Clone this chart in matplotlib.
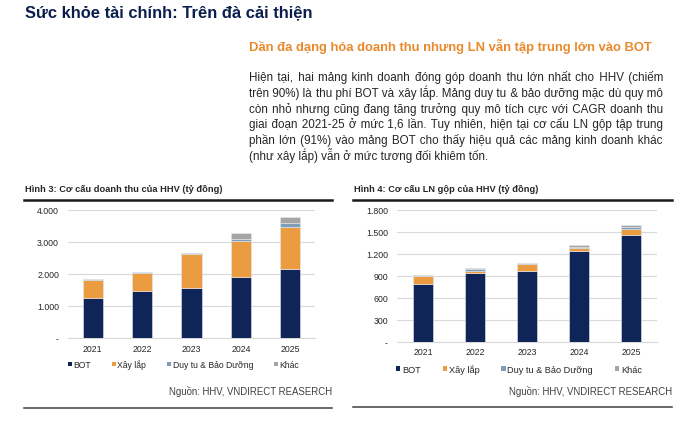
import matplotlib
matplotlib.use("Agg")
import matplotlib.pyplot as plt
from matplotlib.patches import Patch
from matplotlib.lines import Line2D

plt.rcParams["font.family"] = "Liberation Sans"

W, H = 690, 427

_NAVY = "#102557"
_ORANGE = "#eb9b40"
_STEEL = "#7d9db8"
_GREY = "#a5a5a5"
_TEXT = "#262626"

years = ["2021", "2022", "2023", "2024", "2025"]
series_names = ["BOT", "Xây lắp", "Duy tu & Bảo Dưỡng", "Khác"]

# doanh thu (tỷ đồng)
rev_bot = [1240, 1475, 1550, 1895, 2165]
rev_xay_lap = [570, 545, 1065, 1145, 1315]
rev_duy_tu = [25, 30, 25, 50, 110]
rev_khac = [15, 10, 15, 180, 180]
rev_ticks = [0, 1000, 2000, 3000, 4000]
rev_ticklabels = ["-", "1.000", "2.000", "3.000", "4.000"]

# LN gộp (tỷ đồng)
gp_bot = [790, 935, 966, 1244, 1463]
gp_xay_lap = [108, 31, 92, 37, 78]
gp_duy_tu = [4, 28, 12, 19, 23]
gp_khac = [3, 13, 6, 22, 36]
gp_ticks = [0, 300, 600, 900, 1200, 1500, 1800]
gp_ticklabels = ["-", "300", "600", "900", "1.200", "1.500", "1.800"]

title = "Sức khỏe tài chính: Trên đà cải thiện"
subtitle = "Dần đa dạng hóa doanh thu nhưng LN vẫn tập trung lớn vào BOT"
para_lines = [
    "Hiện tại, hai mảng kinh doanh đóng góp doanh thu lớn nhất cho HHV (chiếm",
    "trên 90%) là thu phí BOT và xây lắp. Mảng duy tu & bảo dưỡng mặc dù quy mô",
    "còn nhỏ nhưng cũng đang tăng trưởng quy mô tích cực với CAGR doanh thu",
    "giai đoạn 2021-25 ở mức 1,6 lần. Tuy nhiên, hiện tại cơ cấu LN gộp tập trung",
    "phần lớn (91%) vào mảng BOT cho thấy hiệu quả các mảng kinh doanh khác",
    "(như xây lắp) vẫn ở mức tương đối khiêm tốn.",
]
fig3_title = "Hình 3: Cơ cấu doanh thu của HHV (tỷ đồng)"
fig4_title = "Hình 4: Cơ cấu LN gộp của HHV (tỷ đồng)"
fig3_source = "Nguồn: HHV, VNDIRECT REASERCH"
fig4_source = "Nguồn: HHV, VNDIRECT RESEARCH"


def fx(x):
    return x / W


def fy(y):
    return 1 - y / H


def add_ax(fig, x0, x1, y0, y1):
    # pixel box, y0 top / y1 bottom
    return fig.add_axes([fx(x0), fy(y1), fx(x1) - fx(x0), (y1 - y0) / H])


def stacked_bars(ax, stacks, ticks, ticklabels, width):
    colors = [_NAVY, _ORANGE, _STEEL, _GREY]
    bottom = [0] * len(years)
    for vals, c in zip(stacks, colors):
        ax.bar(years, vals, width=width, bottom=bottom, color=c,
               edgecolor="#e6e9ef", linewidth=0.4, zorder=3)
        bottom = [b + v for b, v in zip(bottom, vals)]
    ax.set_ylim(ticks[0], ticks[-1])
    ax.set_yticks(ticks)
    ax.set_yticklabels(ticklabels)
    ax.set_xlim(-0.5, len(years) - 0.5)
    ax.grid(axis="y", color="#d9d9d9", linewidth=0.8, zorder=0)
    for s in ["top", "right", "left"]:
        ax.spines[s].set_visible(False)
    ax.spines["bottom"].set_color("#d9d9d9")
    ax.spines["bottom"].set_linewidth(0.8)
    ax.tick_params(length=0, labelsize=6.3, colors=_TEXT)
    ax.tick_params(axis="y", pad=6.5)
    ax.tick_params(axis="x", pad=4)


def add_legend(fig, x, y, size):
    handles = [Patch(facecolor=c, edgecolor="none")
               for c in [_NAVY, _ORANGE, _STEEL, _GREY]]
    fig.legend(handles, series_names, loc="center left",
               bbox_to_anchor=(fx(x), fy(y)), ncol=4, frameon=False,
               fontsize=size, handlelength=0.45, handleheight=0.45,
               handletextpad=0.2, columnspacing=2.4, borderaxespad=0,
               borderpad=0, labelcolor=_TEXT)


def hline(fig, x0, x1, y, lw, color):
    fig.add_artist(Line2D([fx(x0), fx(x1)], [fy(y), fy(y)], color=color,
                          linewidth=lw, transform=fig.transFigure))


fig = plt.figure(figsize=(W / 100, H / 100), dpi=100)
fig.patch.set_facecolor("white")

fig.text(fx(25), fy(13), title, fontsize=11.9, fontweight="bold",
         color="#0b1f4f", va="center", ha="left")
fig.text(fx(249), fy(46), subtitle, fontsize=9.35, fontweight="bold",
         color="#e8892b", va="center", ha="left")

# justified paragraph: one text per line, gaps widened with hair spaces
renderer = fig.canvas.get_renderer()
left, right = 249, 663
HAIR = "\u200a"
probe = fig.text(0, 0, "a" + HAIR * 20 + "a", fontsize=8.4)
probe2 = fig.text(0, 0, "aa", fontsize=8.4)
hair_w = (probe.get_window_extent(renderer).width
          - probe2.get_window_extent(renderer).width) / 20
probe.remove()
probe2.remove()

for i, line in enumerate(para_lines):
    base = 81 + i * 15.8
    t = fig.text(fx(left), fy(base), line, fontsize=8.4, color=_TEXT,
                 va="baseline", ha="left")
    if i == len(para_lines) - 1 or hair_w <= 0:
        continue
    words = line.split(" ")
    natural = t.get_window_extent(renderer).width
    total = max(0, round((right - left - natural) / hair_w))
    n = len(words) - 1
    out = words[0]
    done = 0
    for k in range(1, n + 1):
        want = round(total * k / n)
        out += " " + HAIR * (want - done) + words[k]
        done = want
    t.set_text(out)

# Hình 3
fig.text(fx(25), fy(190), fig3_title, fontsize=6.7, fontweight="bold",
         color=_TEXT, va="center", ha="left")
hline(fig, 24, 332, 201, 1.8, "#1a1a1a")
ax1 = add_ax(fig, 68, 315, 211, 339)
stacked_bars(ax1, [rev_bot, rev_xay_lap, rev_duy_tu, rev_khac],
             rev_ticks, rev_ticklabels, 0.41)
add_legend(fig, 68, 365, 6.2)
fig.text(fx(332), fy(392), fig3_source, fontsize=6.9, color="#404040",
         va="center", ha="right")
hline(fig, 24, 332, 409, 1.1, "#404040")

# Hình 4
fig.text(fx(354), fy(190), fig4_title, fontsize=6.7, fontweight="bold",
         color=_TEXT, va="center", ha="left")
hline(fig, 353, 672, 201, 1.8, "#1a1a1a")
ax2 = add_ax(fig, 397, 657, 211, 342.7)
stacked_bars(ax2, [gp_bot, gp_xay_lap, gp_duy_tu, gp_khac],
             gp_ticks, gp_ticklabels, 0.37)
add_legend(fig, 396, 370, 6.6)
fig.text(fx(672), fy(392), fig4_source, fontsize=6.9, color="#404040",
         va="center", ha="right")
hline(fig, 353, 672, 408, 1.1, "#404040")

fig.savefig("out.png", dpi=100, facecolor="white")
